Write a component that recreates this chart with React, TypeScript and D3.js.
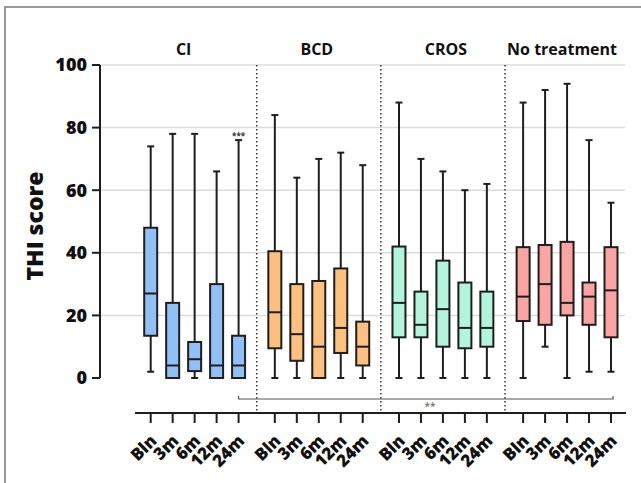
import React from 'react';
import * as d3 from 'd3';

// groups and timepoints
const groups = ['CI', 'BCD', 'CROS', 'No treatment'];
const timepoints = ['Bln', '3m', '6m', '12m', '24m'];
const fills = ['#90c0f6', '#fdc07e', '#b2f4dc', '#fca3a3'];

// five-number summaries per group, one row per timepoint: [min, q1, median, q3, max]
const ciStats = [
  [2, 13.5, 27, 48, 74],
  [0, 0, 4, 24, 78],
  [0, 2.2, 6, 11.5, 78],
  [0, 0, 4, 30, 66],
  [0, 0, 4, 13.5, 76],
];
const bcdStats = [
  [0, 9.5, 21, 40.5, 84],
  [0, 5.5, 14, 30, 64],
  [0, 0, 10, 31, 70],
  [0, 8, 16, 35, 72],
  [0, 4, 10, 18, 68],
];
const crosStats = [
  [0, 13, 24, 42, 88],
  [0, 13, 17, 27.6, 70],
  [0, 10, 22, 37.5, 66],
  [0, 9.5, 16, 30.5, 60],
  [0, 10, 16, 27.6, 62],
];
const noTreatStats = [
  [0, 18.2, 26, 41.8, 88],
  [10, 17, 30, 42.5, 92],
  [0, 20, 24, 43.5, 94],
  [2, 17, 26, 30.5, 76],
  [2, 13, 28, 41.8, 56],
];
const allStats = [ciStats, bcdStats, crosStats, noTreatStats];

const yTicks = [0, 20, 40, 60, 80, 100];
const gridTicks = [20, 40, 60, 80, 100];

export default function App() {
  const width = 641;
  const height = 483;

  // slots: 5 boxes per group, plus a gap between groups
  const gap = 0.65;
  const slot = (g: number, i: number) => g * (timepoints.length + gap) + i;
  const x = d3.scaleLinear()
    .domain([0, slot(3, 4)])
    .range([150.7, 611]);
  const y = d3.scaleLinear().domain([0, 100]).range([378, 65]);

  const boxW = 13;
  const capW = 7;
  const stroke = '#1e1e1e';
  const font = "'Open Sans', 'Noto Sans', sans-serif";

  const axisX = 100;
  const axisY = 413;

  // separators half way between groups
  const seps = [0, 1, 2].map(g => (x(slot(g, 4)) + x(slot(g + 1, 0))) / 2);
  const titleNudge = [-11, -2, 3, -5];

  const boxes = allStats.map((stats, g) => (
    <g key={groups[g]}>
      {stats.map((s, i) => {
        const cx = x(slot(g, i));
        const [mn, q1, md, q3, mx] = s;
        return (
          <g key={i}>
            <line x1={cx} x2={cx} y1={y(mx)} y2={y(q3)} stroke={stroke} strokeWidth={2} />
            <line x1={cx} x2={cx} y1={y(q1)} y2={y(mn)} stroke={stroke} strokeWidth={2} />
            <line x1={cx - capW / 2} x2={cx + capW / 2} y1={y(mx)} y2={y(mx)} stroke={stroke} strokeWidth={2} />
            <line x1={cx - capW / 2} x2={cx + capW / 2} y1={y(mn)} y2={y(mn)} stroke={stroke} strokeWidth={2} />
            <rect x={cx - boxW / 2} y={y(q3)} width={boxW} height={y(q1) - y(q3)}
              fill={fills[g]} stroke={stroke} strokeWidth={2} />
            <line x1={cx - boxW / 2} x2={cx + boxW / 2} y1={y(md)} y2={y(md)} stroke={stroke} strokeWidth={2} />
          </g>
        );
      })}
    </g>
  ));

  const bracketX1 = x(slot(0, 4));
  const bracketX2 = x(slot(3, 4)) + 2;
  const bracketY = 399;

  return (
    <svg width={width} height={height} style={{ position: 'absolute', left: 0, top: 0, background: '#fff' }}
      fontFamily={font}>
      <rect x={5} y={7} width={width + 10} height={height + 10} fill="none" stroke="#999" strokeWidth={2} />

      {/* grid */}
      {gridTicks.map(t => (
        <line key={t} x1={axisX} x2={625} y1={y(t)} y2={y(t)} stroke="#dcdcdc" strokeWidth={1.5} />
      ))}

      {/* dotted separators */}
      {seps.map((sx, k) => (
        <line key={k} x1={sx} x2={sx} y1={y(100)} y2={411} stroke="#333" strokeWidth={1.5} strokeDasharray="1.5,2.5" />
      ))}

      {/* group titles */}
      {groups.map((gname, g) => (
        <text key={gname} x={(x(slot(g, 0)) + x(slot(g, 4))) / 2 + titleNudge[g]} y={55}
          textAnchor="middle" fontSize={16} fontWeight="bold" fill="#111">{gname}</text>
      ))}

      {/* y axis */}
      <line x1={axisX} x2={axisX} y1={y(100)} y2={y(0)} stroke={stroke} strokeWidth={2} />
      {yTicks.map(t => (
        <g key={t} transform={`translate(0,${y(t)})`}>
          <line x1={axisX - 8} x2={axisX} stroke={stroke} strokeWidth={2} />
          <text x={87} dy="0.36em" textAnchor="end" fontSize={18} fontWeight={800} fill="#111">{t}</text>
        </g>
      ))}
      <text transform={`translate(43,226) rotate(-90)`} textAnchor="middle" fontSize={23} fontWeight={800} fill="#111">THI score</text>

      {boxes}

      {/* significance */}
      <text x={x(slot(0, 4))} y={139} textAnchor="middle" fontSize={8} fontWeight="bold" fill="#333">***</text>
      <path d={`M${bracketX1},${bracketY - 3}V${bracketY}H${bracketX2}V${bracketY - 3}`} fill="none" stroke="#555" strokeWidth={1.2} />
      <text x={430} y={410} textAnchor="middle" fontSize={10} fill="#555">**</text>

      {/* x axis */}
      <line x1={135} x2={626} y1={axisY} y2={axisY} stroke={stroke} strokeWidth={2} />
      {allStats.map((stats, g) => stats.map((_, i) => {
        const cx = x(slot(g, i));
        return (
          <g key={`${g}-${i}`}>
            <line x1={cx} x2={cx} y1={axisY} y2={axisY + 10} stroke={stroke} strokeWidth={2} />
            <text transform={`translate(${cx + 7},${442}) rotate(-45)`} textAnchor="end" fontSize={17} fontWeight={800} fill="#111">{timepoints[i]}</text>
          </g>
        );
      }))}
    </svg>
  );
}
